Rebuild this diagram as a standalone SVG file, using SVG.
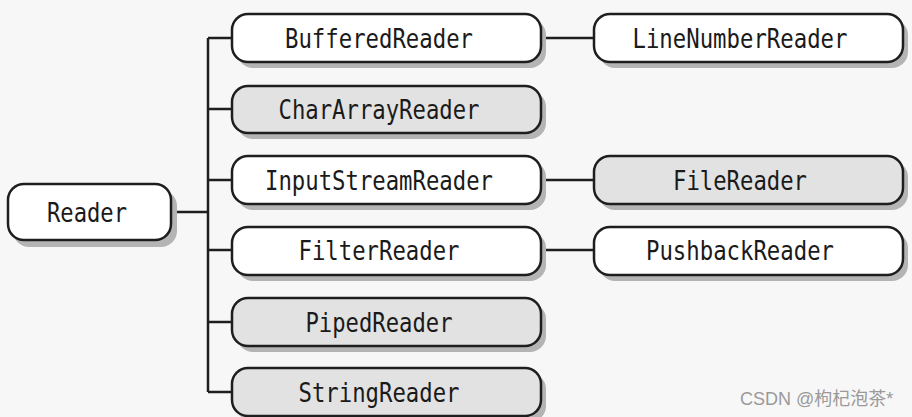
<svg xmlns="http://www.w3.org/2000/svg" width="912" height="417" viewBox="0 0 912 417">
<style>
.bg{fill:#f7f7f7}
.sh{fill:#b4b4b4}
.box{stroke:#1e1e1e;stroke-width:2.5}
.w{fill:#ffffff}
.g{fill:#e2e2e2}
.t{font-family:"DejaVu Sans Mono","Liberation Mono",monospace;font-size:27px;fill:#1a1a1a;text-anchor:middle}
.ln{stroke:#1e1e1e;stroke-width:2.5;fill:none}
.wm{font-family:"Liberation Sans","Noto Sans CJK SC",sans-serif;font-size:18px;fill:#9a9a9a}
</style>
<rect class="bg" x="0" y="0" width="912" height="417"/>
<g id="connectors">
<path class="ln" d="M171,212 H208 M208,38 V392 M208,38 H232 M208,109 H232 M208,180 H232 M208,250 H232 M208,322 H232 M208,392 H232"/>
<path class="ln" d="M541,38 H594 M541,180 H594 M541,250 H594"/>
</g>
<g id="Reader">
<rect class="sh" x="13" y="190" width="164" height="57" rx="16"/>
<rect class="box w" x="8" y="184" width="163" height="56" rx="16"/>
<text class="t" x="87" y="222" textLength="80" lengthAdjust="spacingAndGlyphs">Reader</text>
</g>
<g id="BufferedReader">
<rect class="sh" x="237" y="19" width="309" height="49" rx="16"/>
<rect class="box w" x="232" y="14" width="309" height="48" rx="16"/>
<text class="t" x="379" y="47.5" textLength="188" lengthAdjust="spacingAndGlyphs">BufferedReader</text>
</g>
<g id="CharArrayReader">
<rect class="sh" x="237" y="91" width="309" height="48" rx="16"/>
<rect class="box g" x="232" y="86" width="309" height="47" rx="16"/>
<text class="t" x="379" y="119" textLength="201" lengthAdjust="spacingAndGlyphs">CharArrayReader</text>
</g>
<g id="InputStreamReader">
<rect class="sh" x="237" y="161" width="309" height="49" rx="16"/>
<rect class="box w" x="232" y="156" width="309" height="48" rx="16"/>
<text class="t" x="379" y="189.5" textLength="228" lengthAdjust="spacingAndGlyphs">InputStreamReader</text>
</g>
<g id="FilterReader">
<rect class="sh" x="237" y="232" width="309" height="49" rx="16"/>
<rect class="box w" x="232" y="227" width="309" height="48" rx="16"/>
<text class="t" x="379" y="260" textLength="161" lengthAdjust="spacingAndGlyphs">FilterReader</text>
</g>
<g id="PipedReader">
<rect class="sh" x="237" y="303" width="309" height="49" rx="16"/>
<rect class="box g" x="232" y="298" width="309" height="48" rx="16"/>
<text class="t" x="379" y="331.5" textLength="147" lengthAdjust="spacingAndGlyphs">PipedReader</text>
</g>
<g id="StringReader">
<rect class="sh" x="237" y="373" width="309" height="49" rx="16"/>
<rect class="box g" x="232" y="368" width="309" height="48" rx="16"/>
<text class="t" x="379" y="401.5" textLength="161" lengthAdjust="spacingAndGlyphs">StringReader</text>
</g>
<g id="LineNumberReader">
<rect class="sh" x="599" y="19" width="309" height="49" rx="16"/>
<rect class="box w" x="594" y="14" width="309" height="48" rx="16"/>
<text class="t" x="740" y="47.5" textLength="215" lengthAdjust="spacingAndGlyphs">LineNumberReader</text>
</g>
<g id="FileReader">
<rect class="sh" x="599" y="161" width="309" height="49" rx="16"/>
<rect class="box g" x="594" y="156" width="309" height="48" rx="16"/>
<text class="t" x="740" y="189.5" textLength="134" lengthAdjust="spacingAndGlyphs">FileReader</text>
</g>
<g id="PushbackReader">
<rect class="sh" x="599" y="232" width="309" height="49" rx="16"/>
<rect class="box w" x="594" y="227" width="309" height="48" rx="16"/>
<text class="t" x="740" y="260" textLength="188" lengthAdjust="spacingAndGlyphs">PushbackReader</text>
</g>
<text class="wm" x="740" y="405">CSDN @枸杞泡茶*</text>
</svg>
